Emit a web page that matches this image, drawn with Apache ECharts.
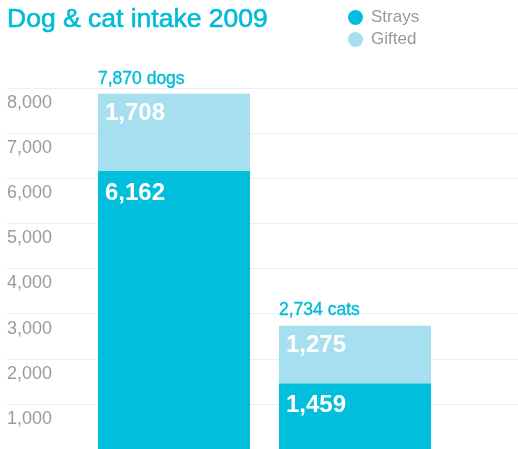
<!DOCTYPE html>
<html>
<head>
<meta charset="utf-8">
<script src="https://cdn.jsdelivr.net/npm/echarts@6/dist/echarts.min.js"></script>
<style>
  html, body { margin: 0; padding: 0; background: #ffffff; }
  #chart { width: 518px; height: 449px; }
</style>
</head>
<body>
<div id="chart"></div>
<script>
// Animal intake, 2009
const categories = ['dogs', 'cats'];
const strays = [6162, 1459];
const gifted = [1708, 1275];
const yTicks = { min: 0, max: 8000, interval: 1000 };

const STRAY_COLOR = '#00bfdc';
const GIFT_COLOR = '#a6dff0';
const ACCENT = '#00bcd9';
const FONT = '"Liberation Sans", Arial, sans-serif';

const fmt = v => v.toLocaleString('en-US');
const totals = strays.map((s, i) => s + gifted[i]);

const chart = echarts.init(document.getElementById('chart'));

const plotTop = 88;
const plotHeight = 363.5;

chart.setOption({
  animation: false,
  title: {
    text: 'Dog & cat intake 2009',
    left: 7,
    top: 6,
    padding: 0,
    textStyle: {
      color: ACCENT, fontSize: 26.5, fontWeight: 'normal', fontFamily: FONT,
      textBorderColor: ACCENT, textBorderWidth: 0.6
    }
  },
  legend: {
    orient: 'vertical',
    left: 348,
    top: 9,
    padding: 0,
    itemWidth: 15,
    itemHeight: 15,
    itemGap: 5,
    icon: 'circle',
    data: ['Strays', 'Gifted'],
    textStyle: { color: '#9e9895', fontSize: 17, fontFamily: FONT, padding: [0, 0, 0, 3] }
  },
  grid: [
    // full-width grid carrying the value labels and gridlines
    { left: 7, right: 0, top: plotTop, height: plotHeight },
    // narrower grid holding the two bars
    { left: 83.5, right: 72.5, top: plotTop, height: plotHeight }
  ],
  xAxis: [
    { type: 'value', gridIndex: 0, show: false, min: 0, max: 1 },
    {
      type: 'category', gridIndex: 1, data: categories,
      axisLine: { show: false }, axisTick: { show: false }, axisLabel: { show: false }
    }
  ],
  yAxis: [
    {
      type: 'value', gridIndex: 0,
      min: yTicks.min, max: yTicks.max, interval: yTicks.interval,
      axisLine: { show: false }, axisTick: { show: false },
      splitLine: { lineStyle: { color: '#e2f2f8', width: 1 } },
      axisLabel: {
        inside: true, margin: 0, align: 'left', verticalAlign: 'top',
        padding: [6, 0, 0, 0],
        color: '#a09a97', fontSize: 18, fontFamily: FONT,
        showMinLabel: false,
        formatter: v => fmt(v)
      }
    },
    {
      type: 'value', gridIndex: 1, show: false,
      min: yTicks.min, max: yTicks.max, interval: yTicks.interval,
      splitLine: { show: false }
    }
  ],
  series: [
    {
      name: 'Strays', type: 'bar', stack: 'intake',
      xAxisIndex: 1, yAxisIndex: 1,
      barWidth: 152,
      data: strays,
      itemStyle: { color: STRAY_COLOR },
      label: {
        show: true, position: 'insideTopLeft', distance: 7, offset: [0, 3],
        color: '#ffffff', fontSize: 24, fontWeight: 'bold', fontFamily: FONT,
        formatter: p => fmt(p.value)
      }
    },
    {
      name: 'Gifted', type: 'bar', stack: 'intake',
      xAxisIndex: 1, yAxisIndex: 1,
      barWidth: 152,
      data: gifted,
      itemStyle: { color: GIFT_COLOR },
      label: {
        show: true, position: [0, -26],
        formatter: p => '{t|' + fmt(totals[p.dataIndex]) + ' ' + categories[p.dataIndex] + '}\n{v|' + fmt(p.value) + '}',
        rich: {
          t: {
            color: ACCENT, fontSize: 17.5, lineHeight: 22, fontFamily: FONT,
            textBorderColor: ACCENT, textBorderWidth: 0.4
          },
          v: { color: '#ffffff', fontSize: 24, fontWeight: 'bold', lineHeight: 48, fontFamily: FONT, padding: [0, 0, 0, 7] }
        }
      }
    }
  ]
});
</script>
</body>
</html>
